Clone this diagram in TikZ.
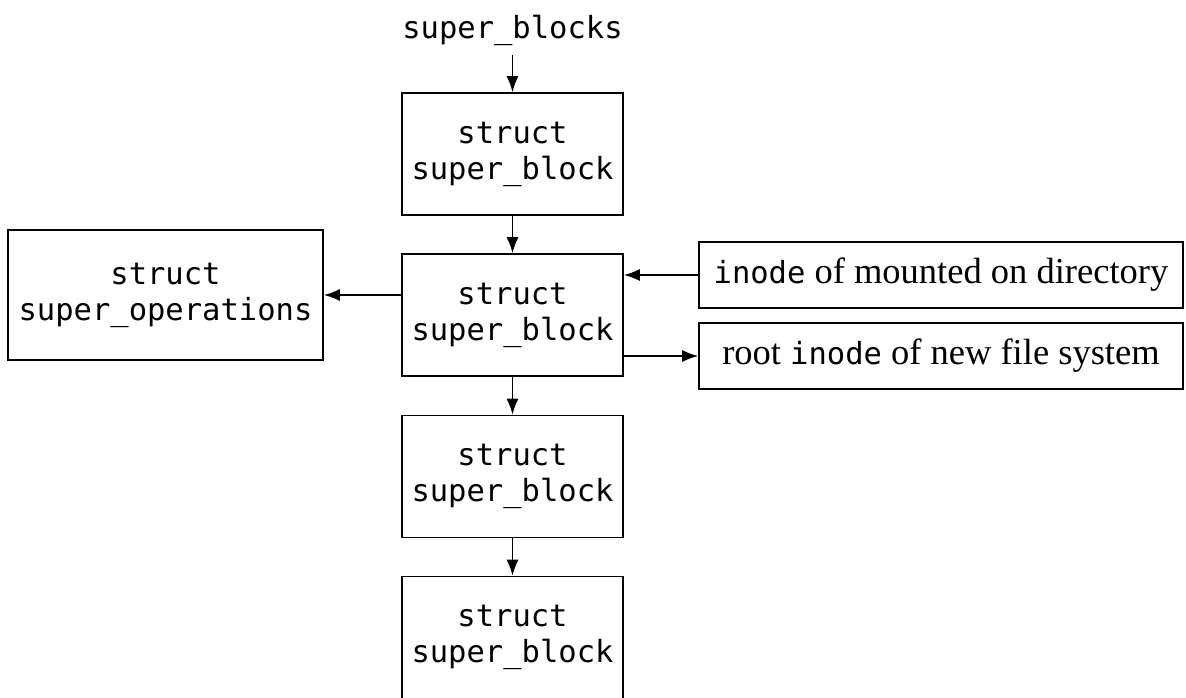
\documentclass[tikz,border=0pt]{standalone}
\usepackage{fontspec}
\setmainfont{Liberation Serif}
\setmonofont{DejaVu Sans Mono}
\usetikzlibrary{arrows.meta}
\begin{document}
\begin{tikzpicture}[x=1pt,y=-1pt,
  box/.style={draw,line width=1.6pt,inner sep=0pt,align=center,font=\fontsize{30.5}{36}\selectfont\ttfamily},
  sbox/.style={box,minimum width=221pt,minimum height=122pt},
  tbox/.style={draw,line width=1.6pt,inner sep=0pt,minimum width=484pt,minimum height=66pt,font=\fontsize{36.5}{40}\selectfont},
  arr/.style={line width=1.6pt,-{Latex[length=16pt,width=12pt]}}]
\useasboundingbox (0,0) rectangle (1186,697);
\node[font=\fontsize{30.5}{36}\selectfont\ttfamily] (lbl) at (512.5,30) {super\_blocks};
\node[sbox] (b1) at (512.5,154) {struct\\super\_block};
\node[sbox] (b2) at (512.5,315) {struct\\super\_block};
\node[sbox] (b3) at (512.5,476.5) {struct\\super\_block};
\node[sbox] (b4) at (512.5,637.5) {struct\\super\_block};
\node[box,minimum width=315pt,minimum height=130pt] (ops) at (165.5,295) {struct\\super\_operations};
\node[tbox] (mnt) at (941,275) {\texttt{\fontsize{30.5}{36}\selectfont inode} of mounted on directory};
\node[tbox] (root) at (941,356) {root \texttt{\fontsize{30.5}{36}\selectfont inode} of new file system};
\coordinate (lblb) at (512.5,55);
\draw[arr] (lblb) -- (b1.north);
\draw[arr] (b1) -- (b2);
\draw[arr] (b2) -- (b3);
\draw[arr] (b3) -- (b4);
\draw[arr] (b2.west |- ops) -- (ops.east);
\draw[arr] (mnt.west) -- (b2.east |- mnt);
\draw[arr] (b2.east |- root) -- (root.west);
\end{tikzpicture}
\end{document}
